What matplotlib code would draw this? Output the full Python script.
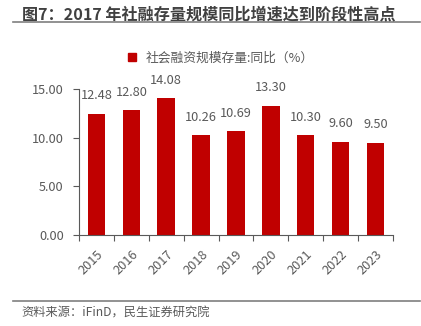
import numpy as np
import matplotlib.pyplot as plt
from matplotlib.lines import Line2D

plt.rcParams["font.family"] = ["Noto Sans CJK SC", "DejaVu Sans"]

# data
years = ["2015", "2016", "2017", "2018", "2019", "2020", "2021", "2022", "2023"]
growth = [12.48, 12.80, 14.08, 10.26, 10.69, 13.30, 10.30, 9.60, 9.50]
y_ticks = [0, 5, 10, 15]

title = "图7：2017 年社融存量规模同比增速达到阶段性高点"
legend_label = "社会融资规模存量:同比（%）"
source = "资料来源：iFinD，民生证券研究院"

red = "#C00000"
gray = "#595959"

fig = plt.figure(figsize=(4.21, 3.26), dpi=100)
ax = fig.add_axes([0.1876, 0.279, 0.7459, 0.448])

x = np.arange(len(years))
bars = ax.bar(x, growth, width=0.5, color=red, zorder=2)
for xi, v in zip(x, growth):
    ax.annotate("%.2f" % v, (xi, v), xytext=(0, 8), textcoords="offset points",
                ha="center", va="bottom", fontsize=9.2, color=gray)

ax.set_xlim(-0.5, len(years) - 0.5)
ax.set_ylim(0, 15)
ax.set_yticks(y_ticks)
ax.set_yticklabels(["%.2f" % t for t in y_ticks], fontsize=9.2, color=gray)
ax.set_xticks(x)
ax.set_xticklabels(years, rotation=45, ha="right", rotation_mode="anchor",
                   fontsize=9.2, color=gray)
ax.tick_params(axis="x", length=0, pad=9)
ax.tick_params(axis="y", length=4, color=gray, width=0.8, pad=7)
# category boundary ticks
ax.set_xticks(np.arange(-0.5, len(years), 1.0), minor=True)
ax.tick_params(axis="x", which="minor", length=4, color=gray, width=0.8)

for s in ["top", "right"]:
    ax.spines[s].set_visible(False)
for s in ["left", "bottom"]:
    ax.spines[s].set_color(gray)
    ax.spines[s].set_linewidth(0.8)

handle = [Line2D([], [], marker="s", linestyle="none", color=red, markersize=5.5)]
fig.legend(handle, [legend_label], loc="center", bbox_to_anchor=(0.514, 0.822),
           frameon=False, fontsize=9.2, labelcolor=gray, handletextpad=0.05)

fig.text(0.052, 0.957, title, fontsize=11.6, fontweight="bold", color="#404040",
         va="center", ha="left")
fig.add_artist(Line2D([0.03, 0.998], [0.933, 0.933], color="#7f7f7f", lw=1.2))
fig.add_artist(Line2D([0.03, 0.998], [0.078, 0.078], color="#7f7f7f", lw=1.2))
fig.text(0.052, 0.04, source, fontsize=8.8, color=gray, va="center", ha="left")

fig.savefig("out.png", dpi=100)
